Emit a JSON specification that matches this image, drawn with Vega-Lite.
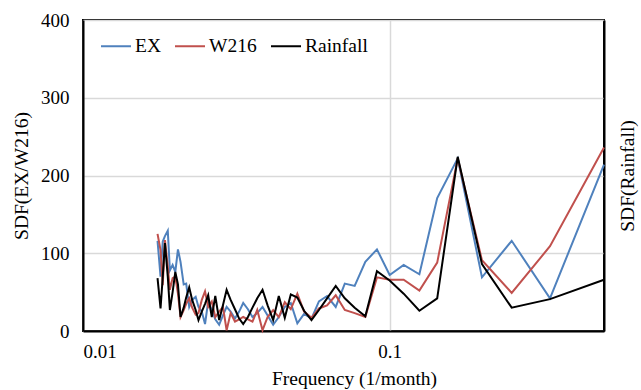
{
  "$schema": "https://vega.github.io/schema/vega-lite/v6.json",
  "width": 521,
  "height": 311,
  "autosize": {"type": "none"},
  "padding": {"left": 83, "top": 20, "right": 37, "bottom": 59},
  "background": "white",
  "config": {
    "font": "Liberation Serif",
    "view": {"stroke": "black", "strokeWidth": 2},
    "axis": {"labelFont": "Liberation Serif", "titleFont": "Liberation Serif", "labelFontSize": 19, "titleFontSize": 19.5, "titleFontWeight": "normal", "labelColor": "black", "titleColor": "black", "domainColor": "black", "domainWidth": 2, "ticks": false, "gridColor": "#d9d9d9", "gridWidth": 1.5}
  },
  "data": {"values": [
    {"f":0.5,"s":"EX","v":214},{"f":0.5,"s":"W216","v":236},{"f":0.5,"s":"Rainfall","v":66},
    {"f":0.3333,"s":"EX","v":42},{"f":0.3333,"s":"W216","v":109},{"f":0.3333,"s":"Rainfall","v":41},
    {"f":0.25,"s":"EX","v":116},{"f":0.25,"s":"W216","v":49},{"f":0.25,"s":"Rainfall","v":30},
    {"f":0.2,"s":"EX","v":69},{"f":0.2,"s":"W216","v":91},{"f":0.2,"s":"Rainfall","v":86},
    {"f":0.1667,"s":"EX","v":222},{"f":0.1667,"s":"W216","v":222},{"f":0.1667,"s":"Rainfall","v":224},
    {"f":0.1429,"s":"EX","v":171},{"f":0.1429,"s":"W216","v":88},{"f":0.1429,"s":"Rainfall","v":42},
    {"f":0.125,"s":"EX","v":73},{"f":0.125,"s":"W216","v":52},{"f":0.125,"s":"Rainfall","v":26},
    {"f":0.1111,"s":"EX","v":85},{"f":0.1111,"s":"W216","v":66},{"f":0.1111,"s":"Rainfall","v":48},
    {"f":0.1,"s":"EX","v":72},{"f":0.1,"s":"W216","v":66},{"f":0.1,"s":"Rainfall","v":65},
    {"f":0.0909,"s":"EX","v":105},{"f":0.0909,"s":"W216","v":69},{"f":0.0909,"s":"Rainfall","v":77},
    {"f":0.0833,"s":"EX","v":89},{"f":0.0833,"s":"W216","v":18},{"f":0.0833,"s":"Rainfall","v":19},
    {"f":0.0769,"s":"EX","v":58},{"f":0.0769,"s":"W216","v":23},{"f":0.0769,"s":"Rainfall","v":30},
    {"f":0.0714,"s":"EX","v":61},{"f":0.0714,"s":"W216","v":27},{"f":0.0714,"s":"Rainfall","v":42},
    {"f":0.0667,"s":"EX","v":31},{"f":0.0667,"s":"W216","v":46},{"f":0.0667,"s":"Rainfall","v":58},
    {"f":0.0625,"s":"EX","v":45},{"f":0.0625,"s":"W216","v":33},{"f":0.0625,"s":"Rainfall","v":42},
    {"f":0.0588,"s":"EX","v":38},{"f":0.0588,"s":"W216","v":29},{"f":0.0588,"s":"Rainfall","v":27},
    {"f":0.0556,"s":"EX","v":16},{"f":0.0556,"s":"W216","v":17},{"f":0.0556,"s":"Rainfall","v":14},
    {"f":0.0526,"s":"EX","v":22},{"f":0.0526,"s":"W216","v":25},{"f":0.0526,"s":"Rainfall","v":26},
    {"f":0.05,"s":"EX","v":10},{"f":0.05,"s":"W216","v":48},{"f":0.05,"s":"Rainfall","v":43},
    {"f":0.0476,"s":"EX","v":36},{"f":0.0476,"s":"W216","v":28},{"f":0.0476,"s":"Rainfall","v":47},
    {"f":0.0455,"s":"EX","v":31},{"f":0.0455,"s":"W216","v":37},{"f":0.0455,"s":"Rainfall","v":17},
    {"f":0.0435,"s":"EX","v":18},{"f":0.0435,"s":"W216","v":18},{"f":0.0435,"s":"Rainfall","v":45},
    {"f":0.0417,"s":"EX","v":8},{"f":0.0417,"s":"W216","v":27},{"f":0.0417,"s":"Rainfall","v":14},
    {"f":0.04,"s":"EX","v":20},{"f":0.04,"s":"W216","v":18},{"f":0.04,"s":"Rainfall","v":33},
    {"f":0.0385,"s":"EX","v":31},{"f":0.0385,"s":"W216","v":1},{"f":0.0385,"s":"Rainfall","v":53},
    {"f":0.037,"s":"EX","v":23},{"f":0.037,"s":"W216","v":27},{"f":0.037,"s":"Rainfall","v":42},
    {"f":0.0357,"s":"EX","v":18},{"f":0.0357,"s":"W216","v":12},{"f":0.0357,"s":"Rainfall","v":30},
    {"f":0.0345,"s":"EX","v":28},{"f":0.0345,"s":"W216","v":15},{"f":0.0345,"s":"Rainfall","v":18},
    {"f":0.0333,"s":"EX","v":36},{"f":0.0333,"s":"W216","v":18},{"f":0.0333,"s":"Rainfall","v":9},
    {"f":0.0323,"s":"EX","v":25},{"f":0.0323,"s":"W216","v":15},{"f":0.0323,"s":"Rainfall","v":16},
    {"f":0.0313,"s":"EX","v":16},{"f":0.0313,"s":"W216","v":12},{"f":0.0313,"s":"Rainfall","v":28},
    {"f":0.0303,"s":"EX","v":25},{"f":0.0303,"s":"W216","v":23},{"f":0.0303,"s":"Rainfall","v":40},
    {"f":0.0294,"s":"EX","v":31},{"f":0.0294,"s":"W216","v":1},{"f":0.0294,"s":"Rainfall","v":53},
    {"f":0.0286,"s":"EX","v":20},{"f":0.0286,"s":"W216","v":31},{"f":0.0286,"s":"Rainfall","v":33},
    {"f":0.0278,"s":"EX","v":8},{"f":0.0278,"s":"W216","v":25},{"f":0.0278,"s":"Rainfall","v":14},
    {"f":0.027,"s":"EX","v":15},{"f":0.027,"s":"W216","v":18},{"f":0.027,"s":"Rainfall","v":45},
    {"f":0.0263,"s":"EX","v":27},{"f":0.0263,"s":"W216","v":38},{"f":0.0263,"s":"Rainfall","v":18},
    {"f":0.0256,"s":"EX","v":38},{"f":0.0256,"s":"W216","v":31},{"f":0.0256,"s":"Rainfall","v":46},
    {"f":0.025,"s":"EX","v":9},{"f":0.025,"s":"W216","v":51},{"f":0.025,"s":"Rainfall","v":35},
    {"f":0.0244,"s":"EX","v":25},{"f":0.0244,"s":"W216","v":40},{"f":0.0244,"s":"Rainfall","v":25},
    {"f":0.0238,"s":"EX","v":31},{"f":0.0238,"s":"W216","v":23},{"f":0.0238,"s":"Rainfall","v":14},
    {"f":0.0233,"s":"EX","v":44},{"f":0.0233,"s":"W216","v":21},{"f":0.0233,"s":"Rainfall","v":27},
    {"f":0.0227,"s":"EX","v":40},{"f":0.0227,"s":"W216","v":30},{"f":0.0227,"s":"Rainfall","v":40},
    {"f":0.0222,"s":"EX","v":31},{"f":0.0222,"s":"W216","v":42},{"f":0.0222,"s":"Rainfall","v":56},
    {"f":0.0217,"s":"EX","v":61},{"f":0.0217,"s":"W216","v":35},{"f":0.0217,"s":"Rainfall","v":43},
    {"f":0.0213,"s":"EX","v":60},{"f":0.0213,"s":"W216","v":27},{"f":0.0213,"s":"Rainfall","v":30},
    {"f":0.0208,"s":"EX","v":89},{"f":0.0208,"s":"W216","v":18},{"f":0.0208,"s":"Rainfall","v":18},
    {"f":0.0204,"s":"EX","v":105},{"f":0.0204,"s":"W216","v":48},{"f":0.0204,"s":"Rainfall","v":60},
    {"f":0.02,"s":"EX","v":76},{"f":0.02,"s":"W216","v":70},{"f":0.02,"s":"Rainfall","v":76},
    {"f":0.0196,"s":"EX","v":85},{"f":0.0196,"s":"W216","v":68},{"f":0.0196,"s":"Rainfall","v":50},
    {"f":0.0192,"s":"EX","v":78},{"f":0.0192,"s":"W216","v":53},{"f":0.0192,"s":"Rainfall","v":27},
    {"f":0.0189,"s":"EX","v":129},{"f":0.0189,"s":"W216","v":83},{"f":0.0189,"s":"Rainfall","v":70},
    {"f":0.0185,"s":"EX","v":122},{"f":0.0185,"s":"W216","v":117},{"f":0.0185,"s":"Rainfall","v":113},
    {"f":0.0182,"s":"EX","v":115},{"f":0.0182,"s":"W216","v":59},{"f":0.0182,"s":"Rainfall","v":70},
    {"f":0.0179,"s":"EX","v":70},{"f":0.0179,"s":"W216","v":104},{"f":0.0179,"s":"Rainfall","v":29},
    {"f":0.0175,"s":"EX","v":116},{"f":0.0175,"s":"W216","v":125},{"f":0.0175,"s":"Rainfall","v":68}
  ]},
  "encoding": {
    "x": {"field": "f", "type": "quantitative", "scale": {"type": "log", "domain": [0.01, 0.5], "nice": false},
      "axis": {"values": [0.01, 0.1], "format": "~g", "grid": true, "labelPadding": 11, "title": "Frequency (1/month)", "titlePadding": 8, "titleX": 271}},
    "color": {"field": "s", "type": "nominal", "scale": {"domain": ["EX", "W216", "Rainfall"], "range": ["#4F81BD", "#C0504D", "#000000"]},
      "legend": {"title": null, "orient": "none", "legendX": 17, "legendY": 10, "direction": "horizontal", "symbolType": "stroke", "symbolSize": 900, "symbolStrokeWidth": 2, "labelFont": "Liberation Serif", "labelFontSize": 19.5, "labelColor": "black", "labelOffset": 3, "columnPadding": 10}}
  },
  "layer": [
    {
      "transform": [{"filter": "datum.s !== 'Rainfall'"}],
      "mark": {"type": "line", "strokeWidth": 2},
      "encoding": {
        "y": {"field": "v", "type": "quantitative", "scale": {"domain": [0, 400], "nice": false},
          "axis": {"values": [0, 100, 200, 300, 400], "grid": true, "labelPadding": 14, "title": "SDF(EX/W216)", "titlePadding": 9}}
      }
    },
    {
      "transform": [{"filter": "datum.s === 'Rainfall'"}],
      "mark": {"type": "line", "strokeWidth": 2},
      "encoding": {
        "y": {"field": "v", "type": "quantitative", "scale": {"domain": [0, 400], "nice": false},
          "axis": {"orient": "right", "labels": false, "grid": false, "title": "SDF(Rainfall)", "titleAngle": -90, "titlePadding": 33}}
      }
    }
  ],
  "resolve": {"scale": {"y": "independent"}}
}
